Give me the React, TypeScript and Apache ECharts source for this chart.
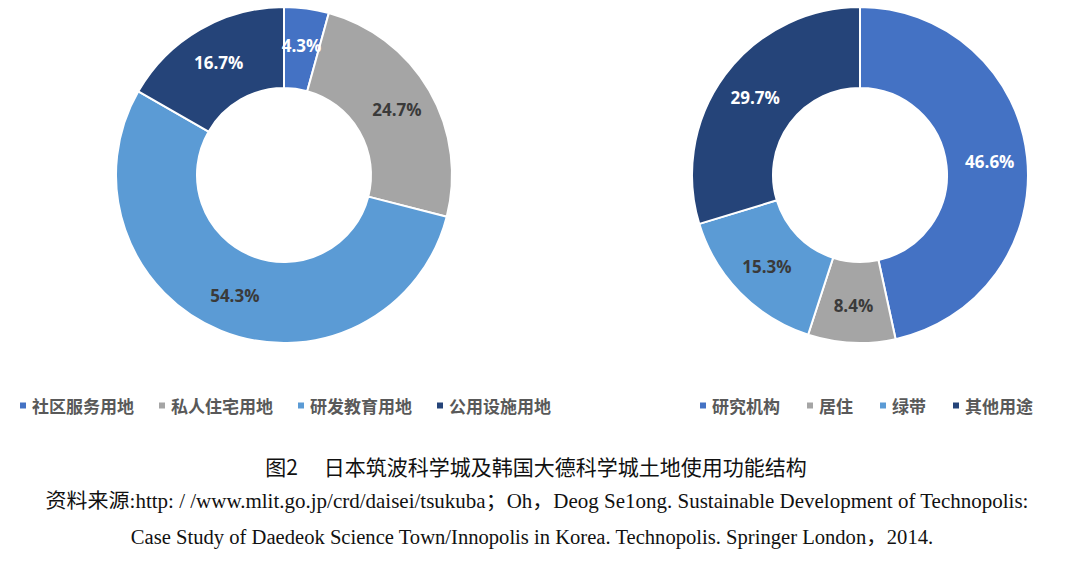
import React, { useEffect, useRef } from "react";
import * as echarts from "echarts";

const leftNames = ["社区服务用地", "私人住宅用地", "研发教育用地", "公用设施用地"];
const leftValues = [4.3, 24.7, 54.3, 16.7];
const rightNames = ["研究机构", "居住", "绿带", "其他用途"];
const rightValues = [46.6, 8.4, 15.3, 29.7];
const colors = ["#4472c4", "#a5a5a5", "#5b9bd5", "#254479"];
const leftLabelColors = ["#ffffff", "#3a3a3a", "#3a3a3a", "#ffffff"];
const rightLabelColors = ["#ffffff", "#3a3a3a", "#3a3a3a", "#ffffff"];

const captionTitle = "图2\u3000 日本筑波科学城及韩国大德科学城土地使用功能结构";
const sourceLine1 = "资料来源:http: / /www.mlit.go.jp/crd/daisei/tsukuba；Oh，Deog Se1ong. Sustainable Development of Technopolis:";
const sourceLine2 = "Case Study of Daedeok Science Town/Innopolis in Korea. Technopolis. Springer London，2014.";

function buildData(names: string[], values: number[], lc: string[]) {
  return names.map((n, i) => ({
    name: n,
    value: values[i],
    itemStyle: { color: colors[i] },
    label: { color: lc[i] },
  }));
}

export default function App() {
  const ref = useRef<HTMLDivElement>(null);
  useEffect(() => {
    if (!ref.current) return;
    const chart = echarts.init(ref.current, undefined, { renderer: "svg" });
    const pieBase = {
      type: "pie",
      radius: [87, 168],
      startAngle: 90,
      clockwise: true,
      avoidLabelOverlap: false,
      itemStyle: { borderColor: "#ffffff", borderWidth: 2 },
      label: {
        show: true,
        position: "inside",
        formatter: (p: any) => p.value.toFixed(1) + "%",
        fontFamily: "Open Sans",
        fontWeight: "bold",
        fontSize: 17,
      },
      labelLine: { show: false },
      emphasis: { disabled: true },
    };
    const legendBase = {
      icon: "rect",
      itemWidth: 8,
      itemHeight: 8,
      orient: "horizontal",
      textStyle: {
        color: "#595959",
        fontSize: 17,
        fontWeight: "bold",
        fontFamily: "Noto Sans CJK SC",
      },
    };
    chart.setOption({
      animation: false,
      backgroundColor: "#ffffff",
      legend: [
        { ...legendBase, data: leftNames, left: 13, top: 392, itemGap: 23 },
        { ...legendBase, data: rightNames, left: 693, top: 392, itemGap: 25 },
      ],
      series: [
        {
          ...pieBase,
          name: "筑波",
          center: [284, 175],
          data: buildData(leftNames, leftValues, leftLabelColors),
        },
        {
          ...pieBase,
          name: "大德",
          center: [860, 175],
          data: buildData(rightNames, rightValues, rightLabelColors),
        },
      ],
      graphic: [
        {
          type: "text",
          x: 536,
          y: 466,
          style: {
            text: captionTitle,
            font: "normal 21px 'Noto Sans CJK SC'",
            fill: "#111111",
            align: "center",
            verticalAlign: "middle",
          },
        },
        {
          type: "text",
          x: 537,
          y: 501,
          scaleX: 1.05,
          style: {
            text: sourceLine1,
            font: "20px 'Liberation Serif', 'Noto Sans CJK SC'",
            fill: "#111111",
            align: "center",
            verticalAlign: "middle",
          },
        },
        {
          type: "text",
          x: 532,
          y: 537,
          scaleX: 1.03,
          style: {
            text: sourceLine2,
            font: "20px 'Liberation Serif', 'Noto Sans CJK SC'",
            fill: "#111111",
            align: "center",
            verticalAlign: "middle",
          },
        },
      ],
    });
    return () => chart.dispose();
  }, []);
  return (
    <div
      ref={ref}
      style={{ position: "fixed", left: 0, top: 0, width: 1080, height: 564 }}
    />
  );
}
